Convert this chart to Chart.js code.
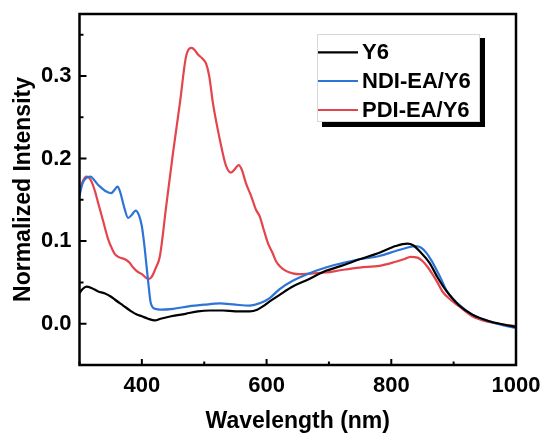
<!DOCTYPE html>
<html>
<head>
<meta charset="utf-8">
<title>Normalized Intensity vs Wavelength</title>
<script src="https://cdn.jsdelivr.net/npm/chart.js@4/dist/chart.umd.min.js"></script>
<style>
  html, body { margin: 0; padding: 0; background: #fff; }
  #wrap { width: 544px; height: 435px; }
</style>
</head>
<body>
<div id="wrap"><canvas id="chart" width="544" height="435"></canvas></div>
<script>
// Series labels
const seriesNames = ['Y6', 'NDI-EA/Y6', 'PDI-EA/Y6'];

// Y6
const y6Wavelength = [300, 305, 311, 320, 330, 340, 350, 357, 370, 383, 392, 400, 410, 421, 430, 447, 470, 490, 509, 530, 550, 573, 585, 594, 605, 621, 642, 665, 695, 720, 749, 781, 807, 826, 835, 845, 861, 875, 888, 909, 930, 957, 980, 1000];
const y6Intensity  = [0.037, 0.042, 0.045, 0.043, 0.039, 0.037, 0.033, 0.029, 0.022, 0.015, 0.011, 0.009, 0.006, 0.004, 0.006, 0.009, 0.012, 0.015, 0.016, 0.016, 0.015, 0.015, 0.017, 0.021, 0.027, 0.035, 0.045, 0.053, 0.064, 0.070, 0.078, 0.086, 0.094, 0.097, 0.095, 0.088, 0.074, 0.055, 0.040, 0.022, 0.011, 0.003, -0.001, -0.004];

// NDI-EA/Y6
const ndiWavelength = [300, 305, 317, 330, 343, 351, 356, 361, 365, 372, 378, 384, 390, 395, 400, 404, 408, 411, 414, 421, 430, 450, 475, 500, 525, 550, 573, 590, 605, 621, 642, 665, 695, 720, 749, 781, 807, 825, 839, 848, 856, 864, 872, 880, 888, 898, 909, 930, 957, 980, 1000];
const ndiIntensity  = [0.155, 0.170, 0.178, 0.168, 0.160, 0.158, 0.162, 0.166, 0.160, 0.140, 0.128, 0.132, 0.137, 0.132, 0.118, 0.095, 0.066, 0.045, 0.026, 0.018, 0.017, 0.018, 0.021, 0.023, 0.0245, 0.023, 0.022, 0.025, 0.031, 0.042, 0.052, 0.060, 0.068, 0.073, 0.078, 0.082, 0.088, 0.092, 0.094, 0.092, 0.086, 0.077, 0.066, 0.054, 0.041, 0.031, 0.023, 0.011, 0.003, -0.002, -0.005];

// PDI-EA/Y6
const pdiWavelength = [300, 305, 311, 318, 325, 330, 338, 346, 352, 357, 365, 373, 380, 386, 393, 400, 406, 411, 416, 422, 429, 439, 450, 461, 471, 480, 485, 490, 497, 503, 508, 514, 525, 535, 543, 549, 555, 560, 567, 575, 583, 589, 595, 602, 610, 615, 622, 631, 642, 653, 675, 695, 720, 749, 781, 807, 820, 831, 842, 850, 858, 866, 874, 882, 895, 909, 930, 957, 980, 1000];
const pdiIntensity  = [0.160, 0.172, 0.178, 0.174, 0.160, 0.146, 0.124, 0.102, 0.091, 0.084, 0.080, 0.078, 0.074, 0.068, 0.063, 0.060, 0.056, 0.054, 0.057, 0.067, 0.082, 0.142, 0.207, 0.267, 0.324, 0.334, 0.331, 0.326, 0.321, 0.315, 0.300, 0.267, 0.223, 0.191, 0.183, 0.187, 0.192, 0.187, 0.170, 0.155, 0.138, 0.130, 0.115, 0.098, 0.085, 0.076, 0.069, 0.064, 0.061, 0.060, 0.061, 0.062, 0.065, 0.068, 0.070, 0.075, 0.078, 0.081, 0.080, 0.076, 0.069, 0.060, 0.050, 0.039, 0.029, 0.021, 0.009, 0.002, -0.001, -0.003];

// Axis tick values
const xMajorTicks = [400, 600, 800, 1000];
const xMinorTicks = [300, 500, 700, 900];
const yMajorTicks = [0.0, 0.1, 0.2, 0.3];
const yMinorTicks = [-0.05, 0.05, 0.15, 0.25, 0.35];

const seriesColors = ['#000000', '#2d74d6', '#e4444c'];

function toPoints(xs, ys) {
  return xs.map((x, i) => ({ x: x, y: ys[i] }));
}

const FONT = '"Liberation Sans", Arial, sans-serif';

// Closed frame, inward tick marks and the shadowed legend box
const framePlugin = {
  id: 'frame',
  afterDatasetsDraw(chart) {
    const { ctx, chartArea: a, scales } = chart;
    const xs = scales.x, ys = scales.y;
    ctx.save();
    ctx.strokeStyle = '#000';
    ctx.lineWidth = 2.5;
    ctx.strokeRect(a.left, a.top, a.right - a.left, a.bottom - a.top);

    ctx.lineWidth = 2;
    ctx.beginPath();
    xMajorTicks.forEach(v => { const p = xs.getPixelForValue(v); ctx.moveTo(p, a.bottom); ctx.lineTo(p, a.bottom - 6); });
    xMinorTicks.forEach(v => { const p = xs.getPixelForValue(v); ctx.moveTo(p, a.bottom); ctx.lineTo(p, a.bottom - 3.5); });
    yMajorTicks.forEach(v => { const p = ys.getPixelForValue(v); ctx.moveTo(a.left, p); ctx.lineTo(a.left + 7, p); });
    yMinorTicks.forEach(v => { const p = ys.getPixelForValue(v); ctx.moveTo(a.left, p); ctx.lineTo(a.left + 4, p); });
    ctx.stroke();

    // legend
    const lx = 317, ly = 34, lw = 163, lh = 88;
    ctx.fillStyle = '#000';
    ctx.fillRect(lx + lw, ly + 4, 5, lh + 1);
    ctx.fillRect(lx + 5, ly + lh, lw, 5);
    ctx.fillStyle = '#fff';
    ctx.fillRect(lx, ly, lw, lh);
    ctx.strokeStyle = '#d8d8d8';
    ctx.lineWidth = 1;
    ctx.strokeRect(lx + 0.5, ly + 0.5, lw - 1, lh - 1);

    const rows = [52.3, 81, 110];
    ctx.font = 'bold 22px ' + FONT;
    ctx.textBaseline = 'middle';
    ctx.textAlign = 'left';
    chart.data.datasets.forEach((ds, i) => {
      ctx.strokeStyle = ds.borderColor;
      ctx.lineWidth = 2.2;
      ctx.beginPath();
      ctx.moveTo(318, rows[i]);
      ctx.lineTo(358, rows[i]);
      ctx.stroke();
      ctx.fillStyle = '#000';
      ctx.fillText(ds.label, 362, rows[i] + 1);
    });
    ctx.restore();
  }
};

new Chart(document.getElementById('chart'), {
  type: 'line',
  data: {
    datasets: [
      { label: seriesNames[0], data: toPoints(y6Wavelength, y6Intensity), borderColor: seriesColors[0] },
      { label: seriesNames[1], data: toPoints(ndiWavelength, ndiIntensity), borderColor: seriesColors[1] },
      { label: seriesNames[2], data: toPoints(pdiWavelength, pdiIntensity), borderColor: seriesColors[2] }
    ]
  },
  options: {
    responsive: false,
    animation: false,
    elements: {
      line: { borderWidth: 2.2, tension: 0.35, cubicInterpolationMode: 'monotone', fill: false },
      point: { radius: 0 }
    },
    layout: { padding: { left: 0, top: 14, right: 28, bottom: 0 } },
    plugins: {
      legend: { display: false },
      tooltip: { enabled: false }
    },
    scales: {
      x: {
        type: 'linear',
        min: 300,
        max: 1000,
        afterBuildTicks(scale) { scale.ticks = xMajorTicks.map(v => ({ value: v })); },
        afterFit(scale) { scale.height = 70; scale.paddingLeft = 0; scale.paddingRight = 0; },
        grid: { display: false, drawTicks: false },
        border: { display: false },
        ticks: { color: '#000', font: { family: FONT, size: 22, weight: 'bold' }, padding: 8, maxRotation: 0, callback: v => String(v) },
        title: { display: true, text: 'Wavelength (nm)', color: '#000', font: { family: FONT, size: 23, weight: 'bold' }, padding: { top: 6, bottom: 0 } }
      },
      y: {
        type: 'linear',
        min: -0.05,
        max: 0.375,
        afterBuildTicks(scale) { scale.ticks = yMajorTicks.map(v => ({ value: v })); },
        afterFit(scale) { scale.width = 79.5; scale.paddingTop = 0; scale.paddingBottom = 0; },
        grid: { display: false, drawTicks: false },
        border: { display: false },
        ticks: { color: '#000', font: { family: FONT, size: 22, weight: 'bold' }, padding: 8, callback: v => v.toFixed(1) },
        title: { display: true, text: 'Normalized Intensity', color: '#000', font: { family: FONT, size: 23, weight: 'bold' }, padding: { top: 10, bottom: 0 } }
      }
    }
  },
  plugins: [framePlugin]
});
</script>
</body>
</html>
